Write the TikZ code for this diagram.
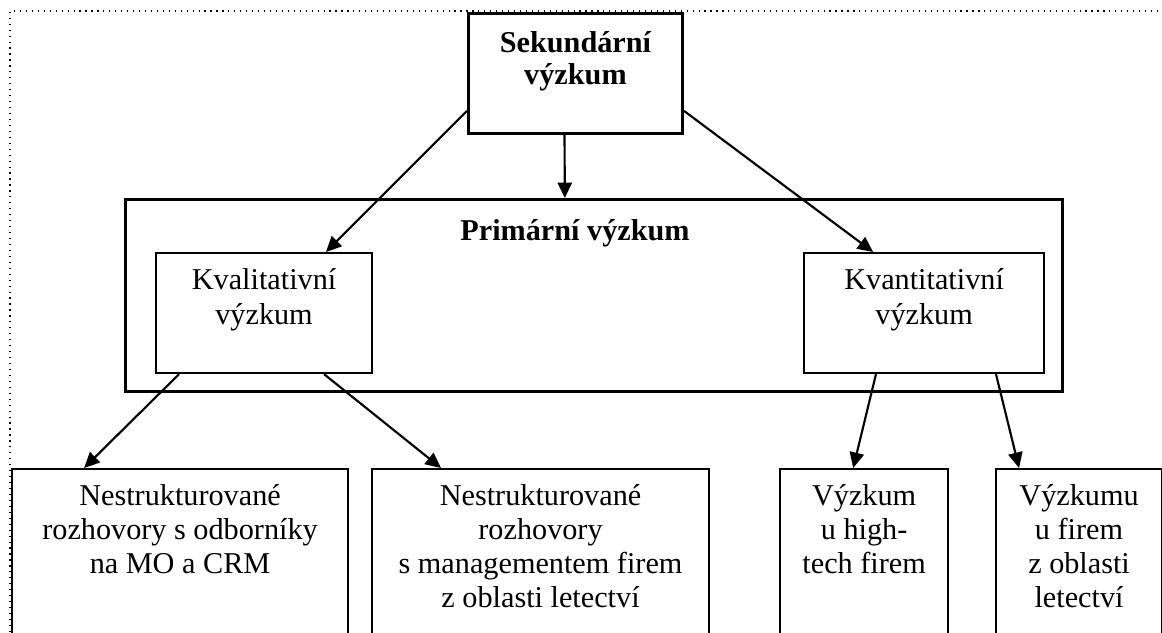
\documentclass[tikz,border=0pt]{standalone}
\usepackage{fontspec}
\setmainfont{Liberation Serif}
\usetikzlibrary{arrows.meta}
\newcommand{\lineup}{\rule{0pt}{12pt}}
\begin{document}
\begin{tikzpicture}[x=0.42pt,y=-0.42pt,
		box/.style={draw,anchor=north west,inner sep=0pt,line width=0.9pt},
		bigbox/.style={box,line width=1.2pt},
		txt/.style={anchor=north,inner sep=0pt,align=center,font=\fontsize{12.7pt}{14.3pt}\selectfont},
		arr/.style={-{Triangle[length=6.5pt,width=6pt]},line width=0.9pt}]
			\clip (0,0) rectangle (1162,632);
			\draw[dotted,line width=0.5pt] (10,632) -- (10,11) -- (1162,11);
			% top
			\node[bigbox,minimum width=89.9pt,minimum height=50.4pt] (sek) at (467,12) {};
			\node[txt,yshift=-4.8pt,font=\fontsize{12.7pt}{13.4pt}\selectfont\bfseries] (sektxt) at (sek.north) {\lineup Sekundární\\výzkum};
			\node[bigbox,minimum width=393.5pt,minimum height=80.6pt] (prim) at (124,198) {};
			\node[anchor=base,inner sep=0pt,font=\fontsize{12.7pt}{14.3pt}\selectfont\bfseries] (primtxt) at (575,240) {Primární výzkum};
			% middle
			\node[box,minimum width=90.7pt,minimum height=50.4pt] (kval) at (155,252) {};
			\node[txt,yshift=-3.75pt] (kvaltxt) at (kval.north) {\lineup Kvalitativní\\výzkum};
			\node[box,minimum width=100.8pt,minimum height=50.4pt] (kvant) at (803,252) {};
			\node[txt,yshift=-3.75pt] (kvanttxt) at (kvant.north) {\lineup Kvantitativní\\výzkum};
			% bottom
			\node[box,minimum width=141.1pt,minimum height=84pt] (expert) at (11,468) {};
			\node[txt,yshift=-3.5pt] (experttxt) at (expert.north) {\lineup Nestrukturované\\rozhovory s odborníky\\na MO a CRM};
			\node[box,minimum width=141.5pt,minimum height=84pt] (manag) at (371,468) {};
			\node[txt,yshift=-3.5pt] (managtxt) at (manag.north) {\lineup Nestrukturované\\rozhovory\\s managementem firem\\z oblasti letectví};
			\node[box,minimum width=70.6pt,minimum height=84pt] (hitech) at (779,468) {};
			\node[txt,yshift=-3.5pt] (hitechtxt) at (hitech.north) {\lineup Výzkum\\u high-\\tech firem};
			\node[box,minimum width=69.7pt,minimum height=84pt] (letec) at (995,468) {};
			\node[txt,yshift=-3.5pt] (letectxt) at (letec.north) {\lineup Výzkumu\\u firem\\z oblasti\\letectví};
			% arrows
			\draw[arr] ([yshift=10.1pt]sek.south west) -- ([xshift=26pt]kval.north);
			\draw[arr] ([xshift=-4.6pt]sek.south) -- ([xshift=-12.2pt]prim.north);
			\draw[arr] ([yshift=10.1pt]sek.south east) -- ([xshift=-21.4pt]kvant.north);
			\draw[arr] ([xshift=-35.7pt]kval.south) -- ([xshift=-40.3pt]expert.north);
			\draw[arr] ([xshift=25.2pt]kval.south) -- ([xshift=-41.8pt]manag.north);
			\draw[arr] ([xshift=-20.2pt]kvant.south) -- ([xshift=-4.6pt]hitech.north);
			\draw[arr] ([xshift=30.2pt]kvant.south) -- ([xshift=-25.2pt]letec.north);
		\end{tikzpicture}
\end{document}
